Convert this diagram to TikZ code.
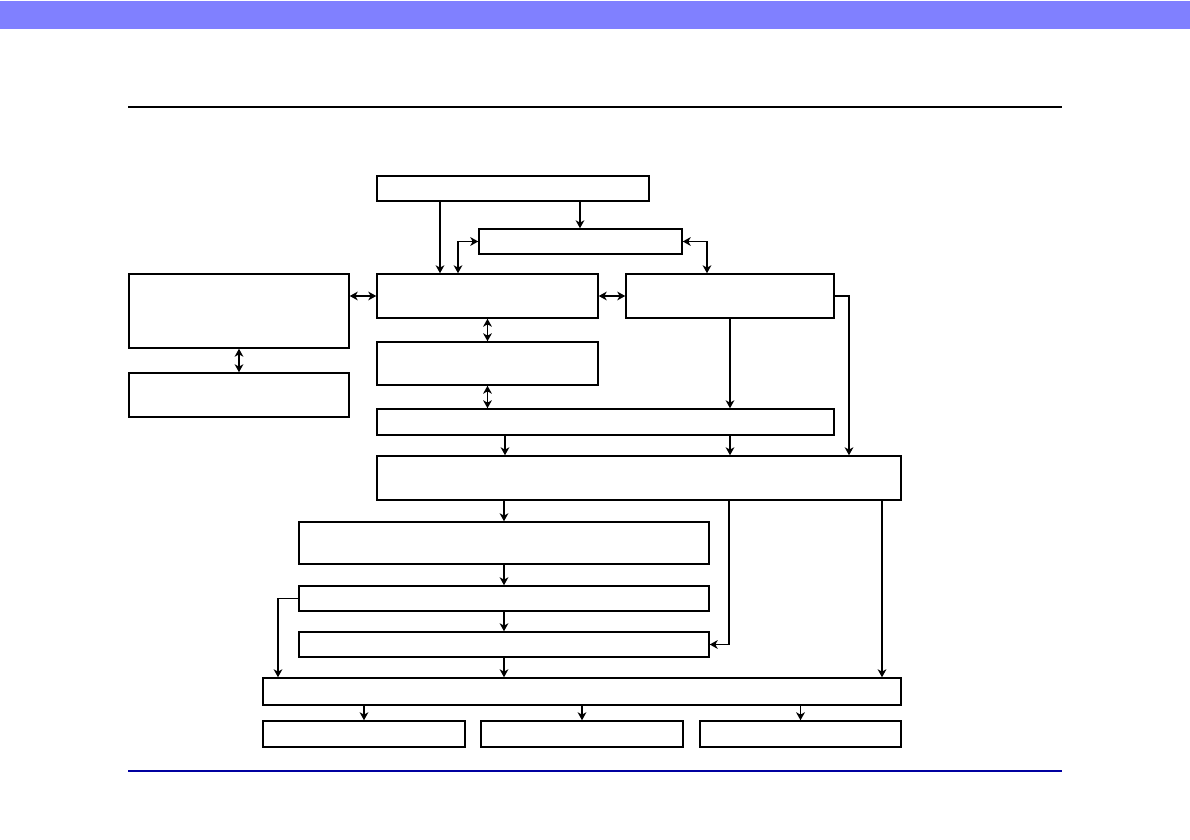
\documentclass[tikz,border=0pt]{standalone}
\usetikzlibrary{arrows.meta,fit}
\definecolor{bandcol}{RGB}{128,128,255}
\definecolor{rulecol}{RGB}{0,0,160}

\begin{document}
\begin{tikzpicture}[x=0.5pt, y=-0.5pt,
    box/.style={draw, line width=0.75pt, inner sep=0pt, fit={#1}},
    link/.style={line width=0.6pt, -{Stealth[length=4pt, width=4.4pt, inset=1.2pt]}},
    both/.style={line width=0.6pt, {Stealth[length=4pt, width=4.4pt, inset=1.2pt]}-{Stealth[length=4pt, width=4.4pt, inset=1.2pt]}}]

\useasboundingbox (0,0) rectangle (1190,840);

% Page frame --- band, top rule, bottom rule
\fill[bandcol] (0,1) rectangle (1190,29);
\draw[line width=1.1pt] (128,107) -- (1062,107);
\draw[rulecol, line width=1.3pt] (128,771) -- (1062,771);

% ================================================================
% BOXES
% ================================================================
\node[box={(377,176) (649,201)}] (src)  {};
\node[box={(479,229) (682,254)}] (mid)  {};
\node[box={(129,274) (349,348)}] (ext)  {};
\node[box={(129,373) (349,417)}] (extb) {};
\node[box={(377,274) (598,318)}] (core) {};
\node[box={(626,274) (834,318)}] (side) {};
\node[box={(377,342) (598,385)}] (buf)  {};
\node[box={(377,409) (834,435)}] (bus)  {};
\node[box={(377,456) (901,500)}] (mix)  {};
\node[box={(299,522) (709,564)}] (stA)  {};
\node[box={(299,586) (709,611)}] (stB)  {};
\node[box={(299,632) (709,657)}] (stC)  {};
\node[box={(263,678) (901,705)}] (out)  {};
\node[box={(263,721) (465,747)}] (outa) {};
\node[box={(481,721) (683,747)}] (outb) {};
\node[box={(700,721) (901,747)}] (outc) {};

% ================================================================
% CONNECTORS --- upper part
% ================================================================
\draw[link] (src.south -| 440,0) -- (core.north -| 440,0);
\draw[link] (src.south -| 580,0) -- (mid.north -| 580,0);
\draw[both] (mid.west) -| (core.north -| 458,0);
\draw[both] (mid.east) -| (side.north -| 707,0);

\draw[both] (ext.east |- core.west) -- (core.west);
\draw[both] (ext.south) -- (extb.north);
\draw[both] (core.east) -- (side.west);
\draw[both] (core.south) -- (buf.north);
\draw[both] (buf.south) -- (bus.north -| buf.south);
\draw[link] (side.south) -- (bus.north -| side.south);
\draw[link] (side.east) -| (mix.north -| 849,0);

\draw[link] (bus.south -| 505,0) -- (mix.north -| 505,0);
\draw[link] (bus.south -| 730,0) -- (mix.north -| 730,0);

% ================================================================
% CONNECTORS --- lower part
% ================================================================
\draw[link] (mix.south -| stA.north) -- (stA.north);
\draw[link] (stA.south) -- (stB.north);
\draw[link] (stB.south) -- (stC.north);
\draw[link] (stC.south) -- (out.north -| stC.south);
\draw[link] (stB.west) -| (out.north -| 278,0);
\draw[link] (mix.south -| 729,0) |- (stC.east);
\draw[link] (mix.south -| 882,0) -- (out.north -| 882,0);

\draw[link] (out.south -| outa.north) -- (outa.north);
\draw[link] (out.south -| outb.north) -- (outb.north);
\draw[link] (out.south -| outc.north) -- (outc.north);

\end{tikzpicture}
\end{document}
